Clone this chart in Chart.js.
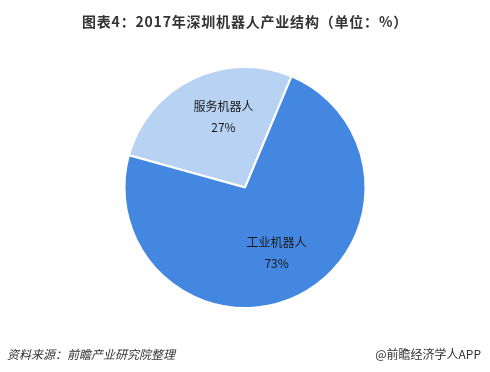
<!DOCTYPE html>
<html><head><meta charset="utf-8">
<script src="https://cdn.jsdelivr.net/npm/chart.js@4.4.0/dist/chart.umd.min.js"></script>
<style>html,body{margin:0;padding:0;background:#fff;}#wrap{width:490px;height:372px;position:relative;}</style>
</head><body>
<div id="wrap"><canvas id="c" width="490" height="372"></canvas></div>
<script>
const categories = ['服务机器人', '工业机器人'];
const values = [27, 73];
const colors = ['#b8d2f4', '#4487e0'];
const titleText = '图表4：2017年深圳机器人产业结构（单位：%）';
const sourceText = '资料来源：前瞻产业研究院整理';
const brandText = '@前瞻经济学人APP';
const FONT = '"Noto Sans CJK SC", "Microsoft YaHei", sans-serif';
const labelShift = [{ dx: 10, dy: -6 }, { dx: 0, dy: 0 }];

const textPlugin = {
  id: 'texts',
  afterDraw(chart) {
    const ctx = chart.ctx;
    ctx.save();
    ctx.fillStyle = '#333';
    ctx.textBaseline = 'middle';
    ctx.textAlign = 'center';
    ctx.font = 'bold 14px ' + FONT;
    ctx.letterSpacing = '0.8px';
    ctx.fillText(titleText, 245, 22);
    ctx.letterSpacing = '0px';
    ctx.font = 'italic 12px ' + FONT;
    ctx.textAlign = 'left';
    ctx.fillStyle = '#333';
    ctx.fillText(sourceText, 7, 354);
    ctx.font = '12px ' + FONT;
    ctx.textAlign = 'right';
    ctx.fillText(brandText, 481, 354);
    // slice labels
    const meta = chart.getDatasetMeta(0);
    const total = values.reduce((a, b) => a + b, 0);
    meta.data.forEach((arc, i) => {
      const mid = (arc.startAngle + arc.endAngle) / 2;
      const r = arc.outerRadius * 0.6;
      const x = arc.x + Math.cos(mid) * r + labelShift[i].dx;
      const y = arc.y + Math.sin(mid) * r + labelShift[i].dy;
      ctx.fillStyle = '#1a1a1a';
      ctx.textAlign = 'center';
      ctx.font = '12px ' + FONT;
      ctx.fillText(categories[i], x, y - 10);
      ctx.fillText(Math.round(values[i] / total * 100) + '%', x, y + 11);
    });
    ctx.restore();
  }
};

new Chart(document.getElementById('c'), {
  type: 'pie',
  data: {
    labels: categories,
    datasets: [{
      data: values,
      backgroundColor: colors,
      borderColor: '#ffffff',
      borderWidth: 2
    }]
  },
  options: {
    responsive: false,
    animation: false,
    rotation: -74.5,
    layout: { padding: { top: 66, bottom: 63, left: 0, right: 0 } },
    plugins: {
      legend: { display: false },
      tooltip: { enabled: false },
      title: { display: false }
    }
  },
  plugins: [textPlugin]
});
</script>
</body></html>
